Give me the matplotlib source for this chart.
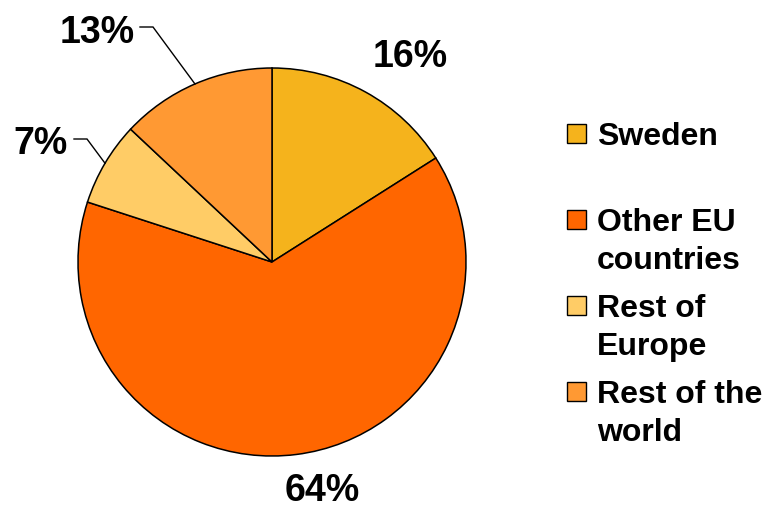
import numpy as np
import matplotlib
matplotlib.use("Agg")
import matplotlib.pyplot as plt
from matplotlib.patches import Rectangle

# data
labels = ["Sweden", "Other EU\ncountries", "Rest of\nEurope", "Rest of the\nworld"]
shares = [16, 64, 7, 13]
pct_text = ["16%", "64%", "7%", "13%"]
colors = ["#F5B31C", "#FF6600", "#FFCC66", "#FF9933"]

W, H = 767, 508
fig = plt.figure(figsize=(W / 100, H / 100), dpi=100)
ax = fig.add_axes([0, 0, 1, 1])

def Y(y):  # image row -> data y
    return H - y

cx, cy, r = 272, 262, 194
font = dict(family=["Liberation Sans", "DejaVu Sans"], weight="bold", color="black")

wedges, _ = ax.pie(shares, colors=colors, startangle=90, counterclock=False,
                   center=(cx, Y(cy)), radius=r, frame=True,
                   wedgeprops=dict(edgecolor="black", linewidth=1.1))

# percentage labels (position of text, and whether a leader line is drawn)
lab_pos = [(410, 67, "center"), (322, 501, "center"), (68, 154, "right"), (135, 43, "right")]
leader = [None, None, (74, 87, 139), (140, 153, 27)]
for w, txt, (x, y, ha), ld in zip(wedges, pct_text, lab_pos, leader):
    ax.text(x, Y(y), txt, fontsize=27, ha=ha, va="baseline", **font)
    if ld is not None:
        mid = np.deg2rad((w.theta1 + w.theta2) / 2)
        ex, ey = w.center[0] + r * np.cos(mid), w.center[1] + r * np.sin(mid)
        x0, x1, yl = ld
        ax.plot([x0, x1, ex], [Y(yl), Y(yl), ey], color="black", lw=1.0,
                solid_joinstyle="miter")

# legend drawn by hand so every entry gets the same slot height
for i, (lab, c) in enumerate(zip(labels, colors)):
    base = 145 + 86 * i
    ax.add_patch(Rectangle((567, Y(base - 2)), 19, 19, facecolor=c,
                           edgecolor="black", lw=1.0))
    for j, line in enumerate(lab.split("\n")):
        ax.text(597, Y(base + 38 * j), line, fontsize=23, ha="left",
                va="baseline", **font)

ax.set_xlim(0, W)
ax.set_ylim(0, H)
ax.set_aspect("equal")
ax.axis("off")

fig.savefig("out.png", dpi=100)
